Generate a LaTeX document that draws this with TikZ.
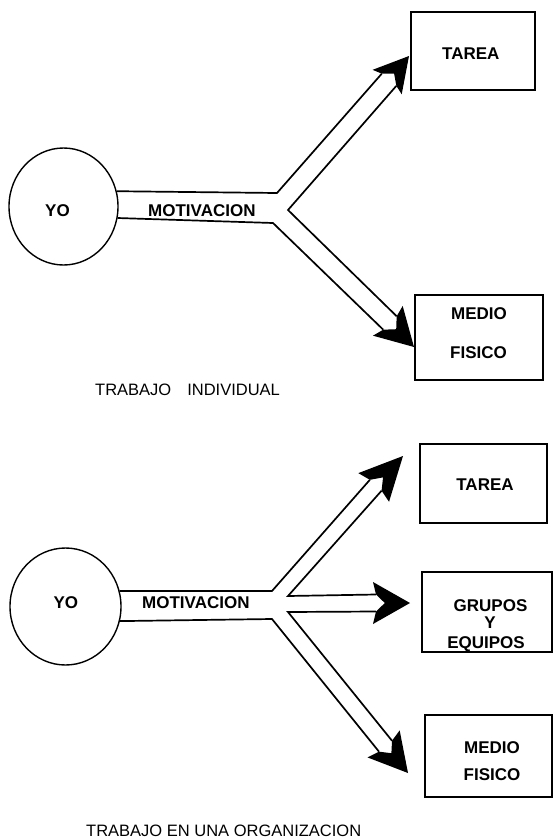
\documentclass[tikz,border=0pt]{standalone}
\usepackage{fontspec}
\setmainfont{Liberation Sans}
\usetikzlibrary{shapes.geometric}
\tikzset{
  pics/hd/.style args={#1/#2/#3}{code={
    \fill[black] (0,0) -- (-#1,#2) -- (-#1+3,#3) -- (-#1*0.68,0) -- (-#1+3,-#3) -- (-#1,-#2) -- cycle;
    \coordinate (-r) at (-#1+3,#3);
    \coordinate (-l) at (-#1+3,-#3);
  }},
  ln/.style={line width=1.7pt, line join=miter},
  box/.style={draw, line width=1.3pt, rectangle, inner sep=0pt},
  yo/.style={draw, line width=1.4pt, ellipse, inner sep=0pt},
  lab/.style={font=\fontsize{17}{18}\selectfont\bfseries, inner sep=0pt, anchor=base},
  captxt/.style={font=\fontsize{16.5}{18}\selectfont, inner sep=0pt, anchor=base west}
}
\begin{document}
\begin{tikzpicture}[x=1pt,y=-1pt]
\useasboundingbox (0,0) rectangle (553,839);
% ---------- top: trabajo individual ----------
\node[yo, minimum width=109pt, minimum height=117pt] (yoT) at (63.5,206.5) {};
\node[lab] (yoTt) at (57.5,216) {YO};
\node[lab, anchor=base west] (motT) at (148,216) {MOTIVACION};
\node[box, minimum width=124pt, minimum height=78pt] (tarT) at (473,51) {};
\node[lab] (tarTt) at (470.8,59.3) {TAREA};
\node[box, minimum width=128pt, minimum height=85pt] (medT) at (479,337.5) {};
\node[lab] (medTa) at (479,319.3) {MEDIO};
\node[lab] (medTb) at (478.5,358.3) {FISICO};
\node[captxt] (capT) at (95,395) {TRABAJO\hspace{16pt}INDIVIDUAL};
\pic[rotate=50] (hUT) at (409,56) {hd=34/19/9.5};
\pic[rotate=-45] (hLT) at (414,347) {hd=37/21/9.5};
\draw[ln] (yoT.16) -- (277,193) -- (hUT-l);
\draw[ln] (hUT-r) -- (288,210) -- (hLT-l);
\draw[ln] (hLT-r) -- (273,223) -- (yoT.-12);
% ---------- bottom: trabajo en una organizacion ----------
\node[yo, minimum width=111pt, minimum height=117pt] (yoB) at (65.5,606.5) {};
\node[lab] (yoBt) at (65.8,608.3) {YO};
\node[lab, anchor=base west] (motB) at (142,608.3) {MOTIVACION};
\node[box, minimum width=127pt, minimum height=79pt] (tarB) at (483.5,483.5) {};
\node[lab] (tarBt) at (485,490) {TAREA};
\node[box, minimum width=130pt, minimum height=80pt] (gruB) at (487,612) {};
\node[lab] (gruBa) at (490.5,611.7) {GRUPOS};
\node[lab] (gruBb) at (490,628.3) {Y};
\node[lab] (gruBc) at (486,648.3) {EQUIPOS};
\node[box, minimum width=127pt, minimum height=82pt] (medB) at (488.5,756) {};
\node[lab] (medBa) at (492,753) {MEDIO};
\node[lab] (medBb) at (492,780) {FISICO};
\node[captxt] (capB) at (86,836.5) {TRABAJO EN UNA ORGANIZACION};
\pic[rotate=47] (hUB) at (403,456) {hd=43/21/8};
\pic[rotate=0] (hMB) at (410,603) {hd=37/21/8.5};
\pic[rotate=-50] (hLB) at (408,773) {hd=38/21/8.5};
\draw[ln] (yoB.16) -- (272,591) -- (hUB-l);
\draw[ln] (hUB-r) -- (288,596) -- (hMB-l);
\draw[ln] (hMB-r) -- (288,612) -- (hLB-l);
\draw[ln] (hLB-r) -- (272,619) -- (yoB.-15);
\end{tikzpicture}
\end{document}
